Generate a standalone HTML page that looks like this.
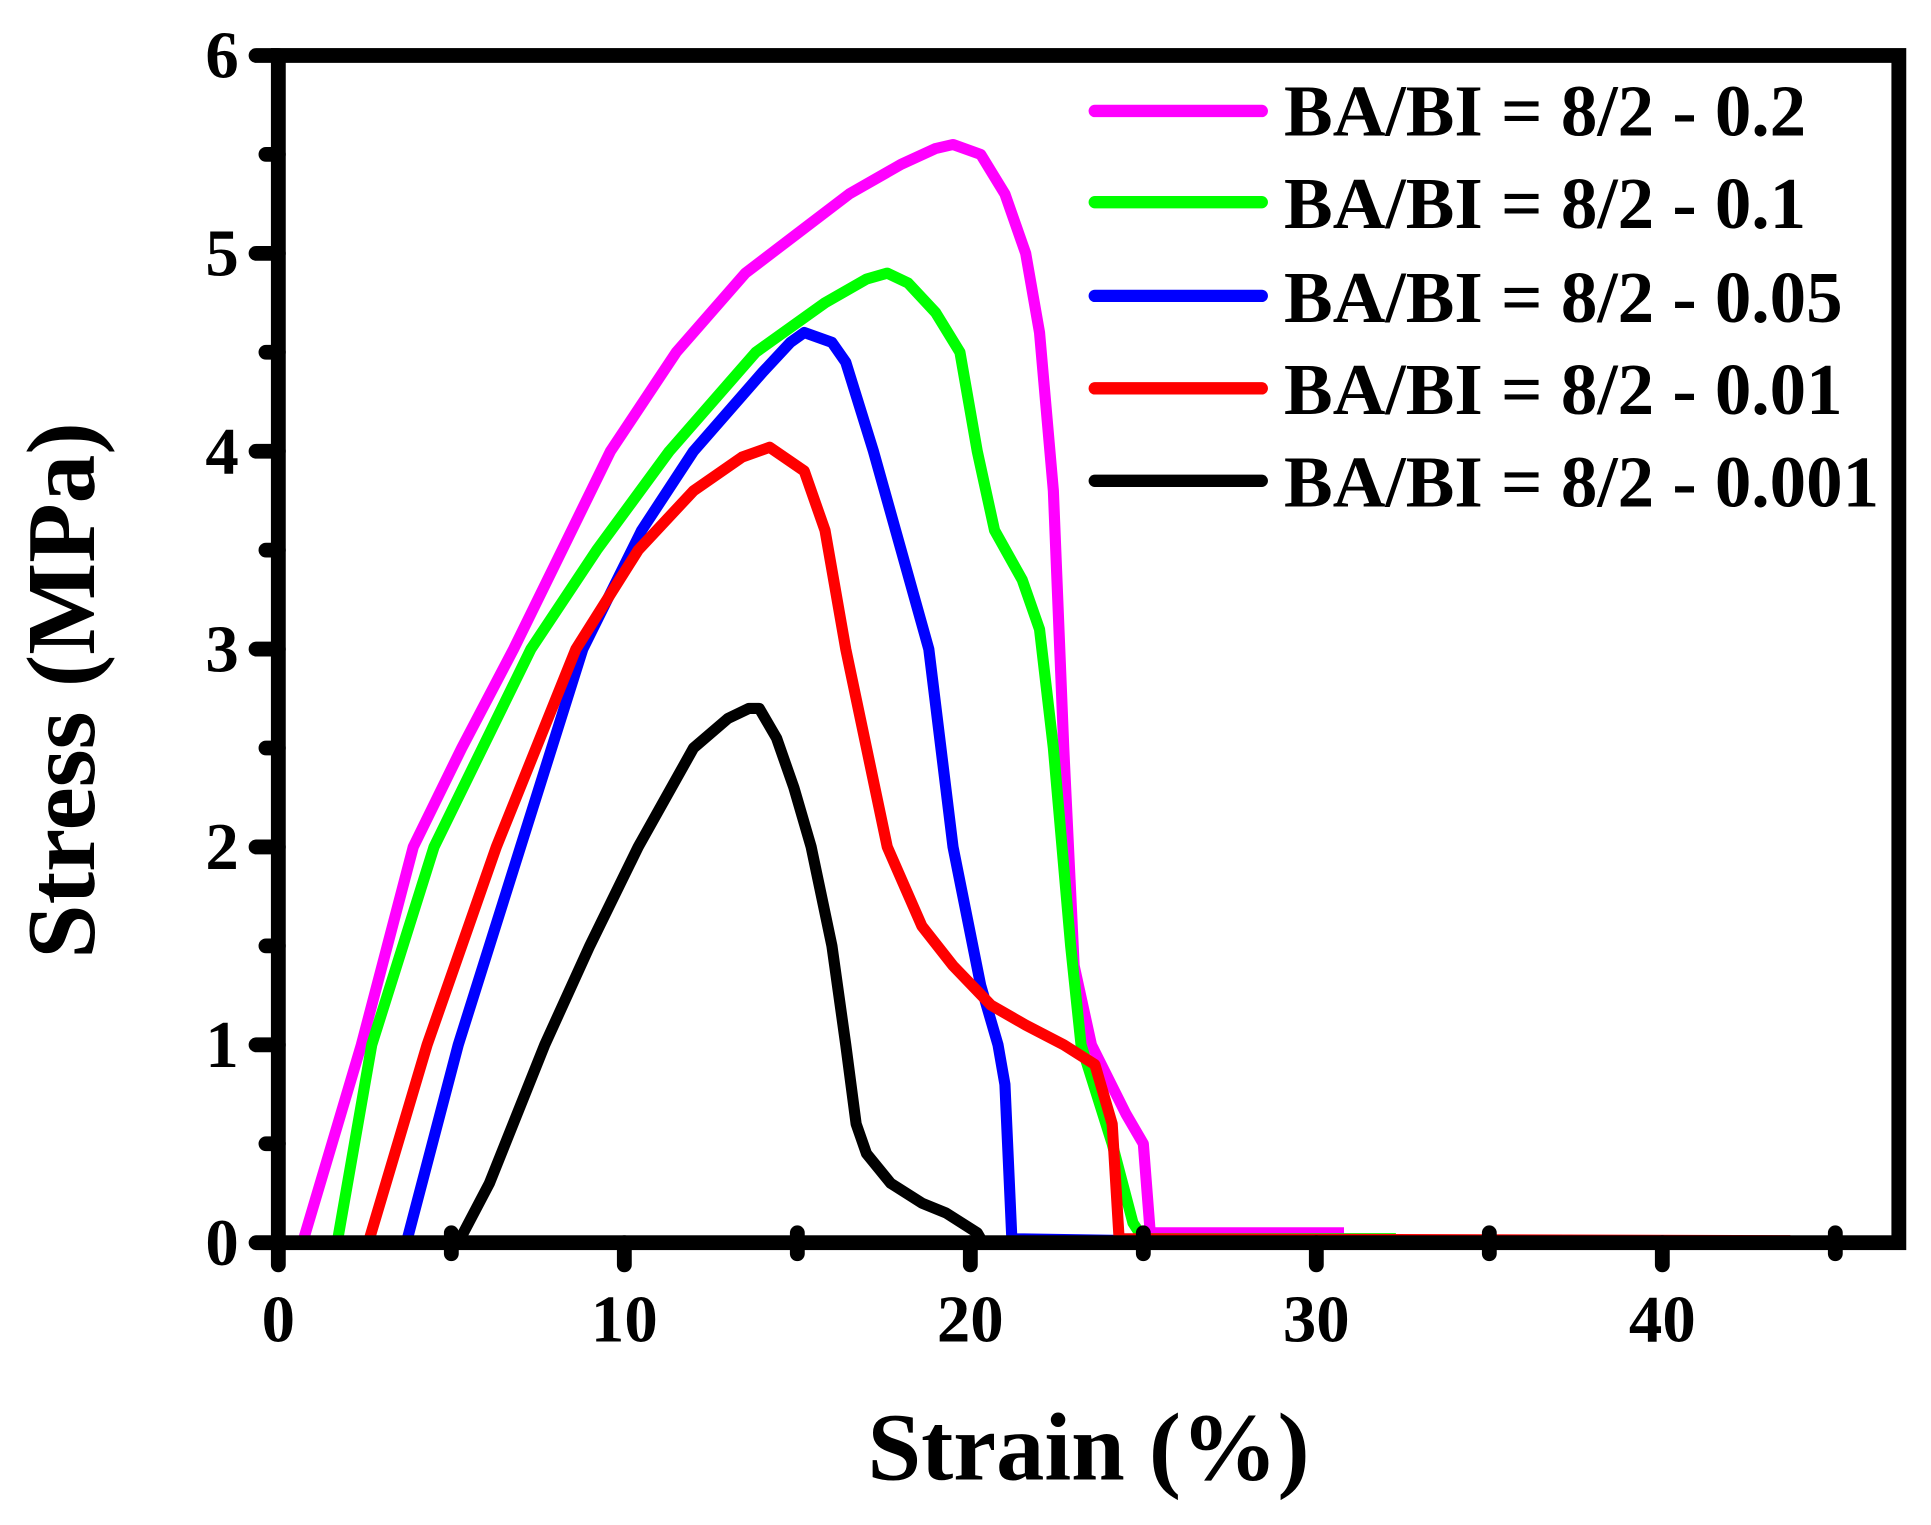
<!DOCTYPE html>
<html><head><meta charset="utf-8"><style>html,body{margin:0;padding:0;background:#fff;overflow:hidden}svg{display:block}</style></head>
<body>
<svg id="s" width="1931" height="1525" viewBox="0 0 1561 1237" preserveAspectRatio="none" xmlns="http://www.w3.org/2000/svg" font-family="'Liberation Serif', serif" font-weight="bold">
<g id="curves" fill="none" stroke-width="9" stroke-linejoin="round" stroke-linecap="butt"></g>
<g stroke="#000" stroke-width="12" stroke-linecap="round" fill="none">
<rect x="225" y="45" width="1310" height="963" stroke-linecap="butt"/>
<g id="ticks"></g>
</g>
<g font-size="54" text-anchor="end" id="ylab"></g>
<g font-size="54" text-anchor="middle" id="xlab"></g>
<text x="880" y="1200" font-size="78" text-anchor="middle">Strain (%)</text>
<text transform="translate(76,560) rotate(-90)" font-size="79" text-anchor="middle">Stress (MPa)</text>
<g stroke-width="10" stroke-linecap="round">
<line x1="885" y1="90" x2="1020" y2="90" stroke="#ff00ff"/>
<line x1="885" y1="164" x2="1020" y2="164" stroke="#00ff00"/>
<line x1="885" y1="240" x2="1020" y2="240" stroke="#0000ff"/>
<line x1="885" y1="315" x2="1020" y2="315" stroke="#ff0000"/>
<line x1="885" y1="390" x2="1020" y2="390" stroke="#000"/>
</g>
<g font-size="59">
<text x="1038" y="110">BA/BI = 8/2 - 0.2</text>
<text x="1038" y="185">BA/BI = 8/2 - 0.1</text>
<text x="1038" y="261">BA/BI = 8/2 - 0.05</text>
<text x="1038" y="336">BA/BI = 8/2 - 0.01</text>
<text x="1038" y="411">BA/BI = 8/2 - 0.001</text>
</g>
</svg>
<script>
var X=function(v){return 225+v*27.97},Y=function(v){return 1008-v*160.5};
var NS="http://www.w3.org/2000/svg";
var data=[
["#ff00ff",[[0.7,0],[2.4,1],[3.9,2],[5.3,2.5],[6.8,3],[8.2,3.5],[9.6,4],[11.5,4.5],[13.5,4.9],[15,5.1],[16.5,5.3],[18,5.45],[19,5.53],[19.5,5.55],[20.3,5.5],[21,5.3],[21.6,5.0],[22,4.6],[22.4,3.8],[22.7,2.5],[23,1.4],[23.5,1.0],[24.5,0.65],[25,0.5],[25.2,0.05],[30.8,0.05]]],
["#00ff00",[[1.7,0],[2.7,1],[4.5,2],[7.3,3],[9.2,3.5],[11.3,4],[13.8,4.5],[15.8,4.75],[17,4.87],[17.6,4.9],[18.2,4.85],[19,4.7],[19.7,4.5],[20.2,4.0],[20.7,3.6],[21.5,3.35],[22,3.1],[22.4,2.5],[22.9,1.5],[23.2,1.0],[24.1,0.5],[24.7,0.1],[25,0.02],[32.3,0.02]]],
["#0000ff",[[3.7,0],[5.2,1],[7,2],[8.8,3],[10.5,3.6],[12,4],[14,4.4],[14.8,4.55],[15.2,4.6],[16,4.55],[16.4,4.45],[17.2,4.0],[18,3.5],[18.8,3.0],[19.5,2.0],[20.3,1.3],[20.8,1.0],[21,0.8],[21.2,0.02],[24.8,0.01]]],
["#ff0000",[[2.6,0],[4.3,1],[6.3,2],[8.6,3],[10.4,3.5],[12,3.8],[13.4,3.97],[14.2,4.02],[15.2,3.9],[15.8,3.6],[16.4,3],[17,2.5],[17.6,2],[18.6,1.6],[19.5,1.4],[20.6,1.2],[21.6,1.1],[22.7,1.0],[23.6,0.9],[24.1,0.6],[24.3,0.02],[43.7,0.01]]],
["#000000",[[5.2,0],[6.1,0.3],[7.7,1],[9,1.5],[10.4,2],[12,2.5],[13,2.65],[13.6,2.7],[13.9,2.7],[14.4,2.55],[14.9,2.3],[15.4,2],[16,1.5],[16.4,1],[16.7,0.6],[17,0.45],[17.7,0.3],[18.6,0.2],[19.3,0.15],[20.2,0.05],[20.3,0.02]]]];
var g=document.getElementById("curves");
data.forEach(function(d){var p=document.createElementNS(NS,"polyline");p.setAttribute("stroke",d[0]);p.setAttribute("points",d[1].map(function(q){return X(q[0])+","+Y(q[1])}).join(" "));g.appendChild(p);});
var t=document.getElementById("ticks"),yl=document.getElementById("ylab"),xl=document.getElementById("xlab");
function L(a,b,c,d){var l=document.createElementNS(NS,"line");l.setAttribute("x1",a);l.setAttribute("y1",b);l.setAttribute("x2",c);l.setAttribute("y2",d);t.appendChild(l);}
function T(par,x,y,s){var e=document.createElementNS(NS,"text");e.setAttribute("x",x);e.setAttribute("y",y);e.textContent=s;par.appendChild(e);}
for(var i=0;i<=6;i++){L(207,Y(i),225,Y(i));T(yl,193,Y(i)+18,i);if(i<6)L(215,Y(i+0.5),225,Y(i+0.5));}
for(var i=0;i<=40;i+=10){L(X(i),1008,X(i),1026);T(xl,X(i),1088,i);L(X(i+5),1000,X(i+5),1017);}
</script>
</body></html>
